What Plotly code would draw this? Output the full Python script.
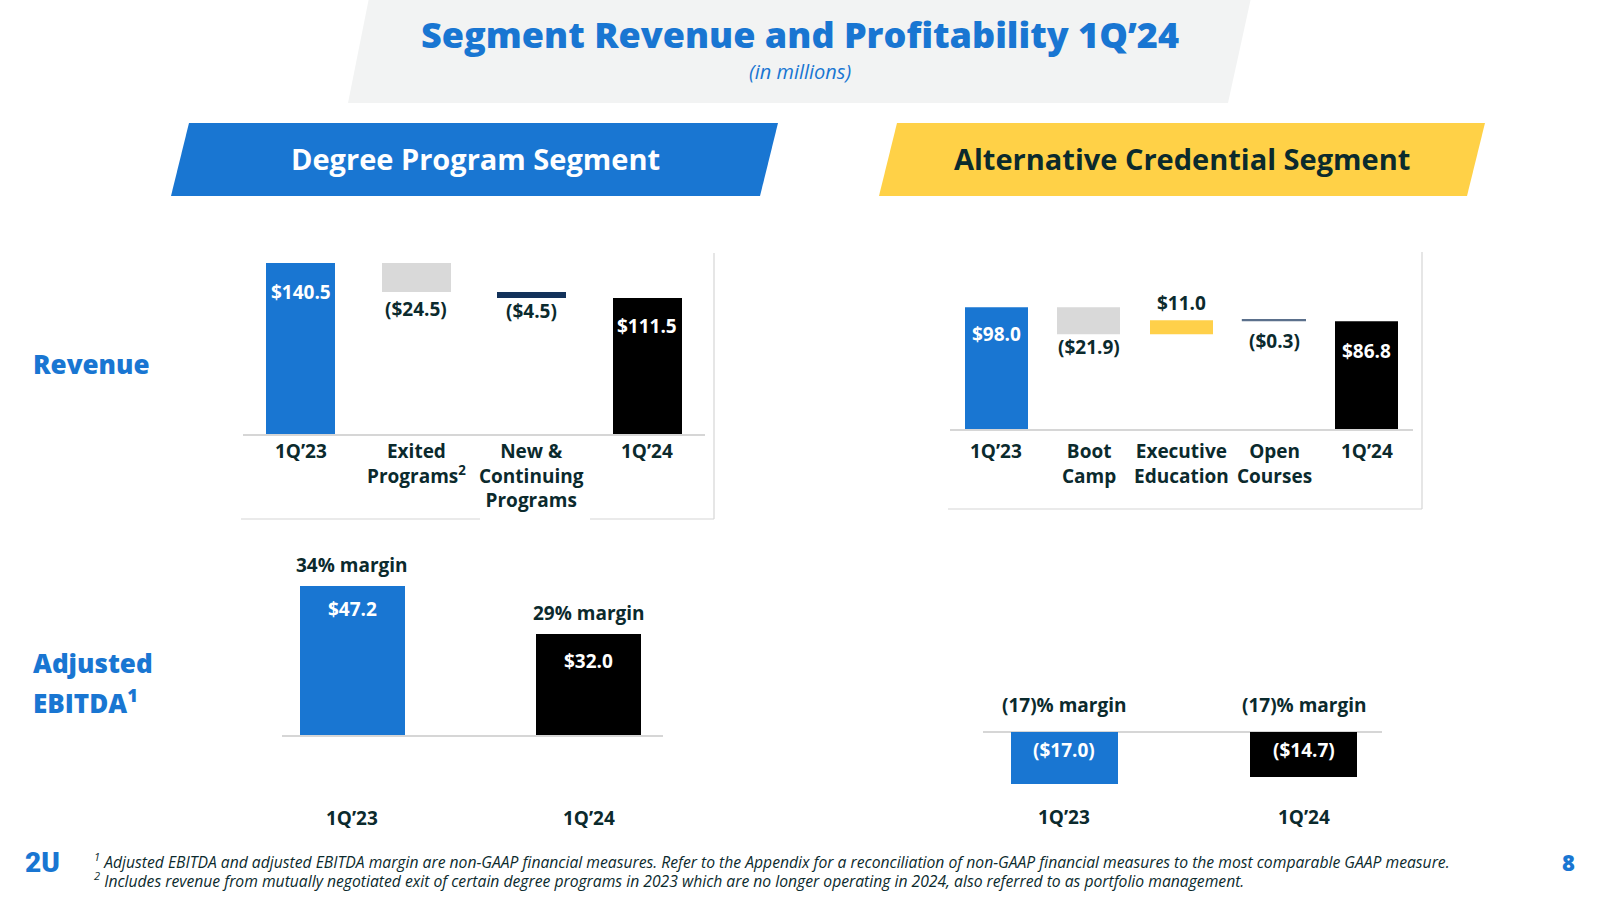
import plotly.graph_objects as go

W, H = 1600, 900

# ---------------- data ----------------
deg_rev_categories = ["1Q’23", "Exited Programs", "New & Continuing Programs", "1Q’24"]
deg_rev_ticklabels = ["1Q’23", "Exited<br>Programs<sup>2</sup>", "New &<br>Continuing<br>Programs", "1Q’24"]
deg_rev_values = [140.5, -24.5, -4.5, 111.5]
deg_rev_kind = ["total", "delta", "delta", "total"]
deg_rev_labels = ["$140.5", "($24.5)", "($4.5)", "$111.5"]

alt_rev_categories = ["1Q’23", "Boot Camp", "Executive Education", "Open Courses", "1Q’24"]
alt_rev_ticklabels = ["1Q’23", "Boot<br>Camp", "Executive<br>Education", "Open<br>Courses", "1Q’24"]
alt_rev_values = [98.0, -21.9, 11.0, -0.3, 86.8]
alt_rev_kind = ["total", "delta", "delta", "delta", "total"]
alt_rev_labels = ["$98.0", "($21.9)", "$11.0", "($0.3)", "$86.8"]

ebitda_periods = ["1Q’23", "1Q’24"]
deg_ebitda_values = [47.2, 32.0]
deg_ebitda_labels = ["$47.2", "$32.0"]
deg_ebitda_margins = ["34% margin", "29% margin"]
alt_ebitda_values = [-17.0, -14.7]
alt_ebitda_labels = ["($17.0)", "($14.7)"]
alt_ebitda_margins = ["(17)% margin", "(17)% margin"]

title_text = "Segment Revenue and Profitability 1Q’24"
subtitle_text = "(in millions)"
footnote_1 = "<sup>1</sup> Adjusted EBITDA and adjusted EBITDA margin are non-GAAP financial measures. Refer to the Appendix for a reconciliation of non-GAAP financial measures to the most comparable GAAP measure."
footnote_2 = "<sup>2</sup> Includes revenue from mutually negotiated exit of certain degree programs in 2023 which are no longer operating in 2024, also referred to as portfolio management."

# ---------------- styles ----------------
FONT = "Open Sans"
BLUE = "#1976D2"
BLACK = "#000000"
GRAY = "#D9D9D9"
NAVY = "#13325A"
YELLOW = "#FFD04A"
SLATE = "#5B708C"
DARK = "#0B2A2D"
LINE = "#D6D6D6"
BANNER_GRAY = "#F2F3F3"

deg_colors = [BLUE, GRAY, NAVY, BLACK]
alt_colors = [BLUE, GRAY, YELLOW, SLATE, BLACK]
alt_line_w = [0, 0, 0, 1.2, 0]


def px_x(x):
    return x / W


def px_y(y):
    return 1 - y / H


def waterfall(values, kinds):
    bases, heights = [], []
    running = 0.0
    for v, k in zip(values, kinds):
        if k == "total":
            bases.append(0.0)
            heights.append(v)
            running = v
        else:
            if v >= 0:
                bases.append(running)
                heights.append(v)
            else:
                bases.append(running + v)
                heights.append(-v)
            running += v
    return bases, heights


fig = go.Figure()

deg_base, deg_h = waterfall(deg_rev_values, deg_rev_kind)
alt_base, alt_h = waterfall(alt_rev_values, alt_rev_kind)

fig.add_trace(go.Bar(x=deg_rev_categories, y=deg_h, base=deg_base, width=0.6,
                     marker=dict(color=deg_colors, line=dict(width=0)),
                     xaxis="x", yaxis="y", hoverinfo="skip", showlegend=False))
fig.add_trace(go.Bar(x=alt_rev_categories, y=alt_h, base=alt_base, width=0.68,
                     marker=dict(color=alt_colors, line=dict(width=alt_line_w, color=alt_colors)),
                     xaxis="x2", yaxis="y2", hoverinfo="skip", showlegend=False))
fig.add_trace(go.Bar(x=ebitda_periods, y=deg_ebitda_values, width=0.444,
                     marker=dict(color=[BLUE, BLACK], line=dict(width=0)),
                     xaxis="x3", yaxis="y3", hoverinfo="skip", showlegend=False))
fig.add_trace(go.Bar(x=ebitda_periods, y=alt_ebitda_values, width=0.447,
                     marker=dict(color=[BLUE, BLACK], line=dict(width=0)),
                     xaxis="x4", yaxis="y4", hoverinfo="skip", showlegend=False))

hidden_y = dict(showgrid=False, zeroline=False, showline=False, showticklabels=False, ticks="")

fig.update_layout(
    width=W, height=H,
    margin=dict(l=0, r=0, t=0, b=0),
    paper_bgcolor="white", plot_bgcolor="rgba(0,0,0,0)",
    bargap=0, showlegend=False,
    xaxis=dict(domain=[px_x(243), px_x(705)], anchor="y", type="category", range=[-0.5, 3.5],
               categoryarray=deg_rev_categories, categoryorder="array",
               showline=True, linecolor=LINE, linewidth=1.5, ticks="", showgrid=False, zeroline=False,
               showticklabels=False),
    yaxis=dict(domain=[px_y(434), px_y(434 - 150 * 1.217)], anchor="x", range=[0, 150], **hidden_y),
    xaxis2=dict(domain=[px_x(950), px_x(1413)], anchor="y2", type="category", range=[-0.5, 4.5],
                categoryarray=alt_rev_categories, categoryorder="array",
                showline=True, linecolor=LINE, linewidth=1.5, ticks="", showgrid=False, zeroline=False,
                showticklabels=False),
    yaxis2=dict(domain=[px_y(429), px_y(429 - 105 * 1.245)], anchor="x2", range=[0, 105], **hidden_y),
    xaxis3=dict(domain=[px_x(282), px_x(663)], anchor="y3", type="category", range=[-0.298, 1.313],
                showline=True, linecolor=LINE, linewidth=1.5, ticks="", showgrid=False, zeroline=False,
                showticklabels=False),
    yaxis3=dict(domain=[px_y(735), px_y(735 - 50 * 3.157)], anchor="x3", range=[0, 50], **hidden_y),
    xaxis4=dict(domain=[px_x(983), px_x(1382)], anchor="y4", type="category", range=[-0.340, 1.326],
                showline=False, ticks="", showgrid=False, zeroline=False, showticklabels=False),
    yaxis4=dict(domain=[px_y(732 + 20 * 3.06), px_y(732 - 5 * 3.06)], anchor="x4", range=[-20, 5],
                showgrid=False, showline=False, showticklabels=False, ticks="",
                zeroline=True, zerolinecolor=LINE, zerolinewidth=1.5),
)

shapes = []


def poly(points, color):
    d = "M " + " L ".join(f"{px_x(x):.5f},{px_y(y):.5f}" for x, y in points) + " Z"
    return dict(type="path", path=d, xref="paper", yref="paper", fillcolor=color,
                line=dict(width=0), layer="below")


def seg(x0, y0, x1, y1):
    return dict(type="line", xref="paper", yref="paper", x0=px_x(x0), y0=px_y(y0), x1=px_x(x1), y1=px_y(y1),
                line=dict(color=LINE, width=1.2), layer="below")


shapes.append(poly([(369, -2), (1251, -2), (1228, 103), (348, 103)], BANNER_GRAY))
shapes.append(poly([(189, 123), (778, 123), (760, 196), (171, 196)], BLUE))
shapes.append(poly([(897, 123), (1485, 123), (1467, 196), (879, 196)], "#FFD147"))
# frame lines around revenue charts
shapes += [seg(714, 253, 714, 519), seg(241, 519, 480, 519), seg(590, 519, 714, 519)]
shapes += [seg(1422, 252, 1422, 509), seg(948, 509, 1422, 509)]
fig.update_layout(shapes=shapes)

ann = []


def txt(text, x, y, size, color=DARK, weight=700, italic=False, xanchor="center", yanchor="middle",
        xref="paper", yref="paper", yshift=0, family=FONT, align="left"):
    f = dict(family=family, size=size, color=color, weight=weight)
    if italic:
        f["style"] = "italic"
    ann.append(dict(text=text, x=x, y=y, xref=xref, yref=yref, xanchor=xanchor, yanchor=yanchor,
                    yshift=yshift, showarrow=False, font=f, align=align))


# titles
txt(title_text, 0.5, px_y(34), 36, color=BLUE, weight=800)
txt(subtitle_text, 0.5, px_y(72), 20, color=BLUE, weight=400, italic=True)
txt("Degree Program Segment", px_x(475), px_y(159), 29, color="white", weight=700)
txt("Alternative Credential Segment", px_x(1182), px_y(159), 29, color=DARK, weight=700)
txt("Revenue", px_x(31), px_y(364), 26, color=BLUE, weight=800, xanchor="left")
txt("Adjusted", px_x(31), px_y(663), 26, color=BLUE, weight=800, xanchor="left")
txt("EBITDA<sup>1</sup>", px_x(31), px_y(702), 26, color=BLUE, weight=800, xanchor="left")

# category labels of the revenue charts
for c, t in zip(deg_rev_categories, deg_rev_ticklabels):
    txt(t, c, px_y(436), 19, xref="x", yref="paper", yanchor="top", align="center")
for c, t in zip(alt_rev_categories, alt_rev_ticklabels):
    txt(t, c, px_y(436), 19, xref="x2", yref="paper", yanchor="top", align="center")

# revenue waterfall labels
deg_shift = [-29, -16, -13, -28]
for i, (c, lab, kind, v) in enumerate(zip(deg_rev_categories, deg_rev_labels, deg_rev_kind, deg_rev_values)):
    if kind == "total":
        y, col = deg_base[i] + deg_h[i], "white"
    elif v < 0:
        y, col = deg_base[i], DARK
    else:
        y, col = deg_base[i] + deg_h[i], DARK
    txt(lab, c, y, 19, color=col, xref="x", yref="y", yshift=deg_shift[i])

alt_shift = [-27, -13, 18, -20, -30]
for i, (c, lab, kind, v) in enumerate(zip(alt_rev_categories, alt_rev_labels, alt_rev_kind, alt_rev_values)):
    if kind == "total":
        y, col = alt_base[i] + alt_h[i], "white"
    elif v < 0:
        y, col = alt_base[i], DARK
    else:
        y, col = alt_base[i] + alt_h[i], DARK
    txt(lab, c, y, 19, color=col, xref="x2", yref="y2", yshift=alt_shift[i])

# EBITDA labels
deg_val_shift = [-23, -27]
for c, v, lab, m, s in zip(ebitda_periods, deg_ebitda_values, deg_ebitda_labels, deg_ebitda_margins, deg_val_shift):
    txt(m, c, v, 19, xref="x3", yref="y3", yshift=21)
    txt(lab, c, v, 19, color="white", xref="x3", yref="y3", yshift=s)
    txt(c, c, px_y(818), 19, xref="x3", yref="paper")

for c, v, lab, m in zip(ebitda_periods, alt_ebitda_values, alt_ebitda_labels, alt_ebitda_margins):
    txt(m, c, 0, 19, xref="x4", yref="y4", yshift=27)
    txt(lab, c, 0, 19, color="white", xref="x4", yref="y4", yshift=-18)
    txt(c, c, px_y(817), 19, xref="x4", yref="paper")

# footer
txt(footnote_1, px_x(92), px_y(861), 15.7, weight=400, italic=True, xanchor="left")
txt(footnote_2, px_x(92), px_y(880), 15.7, weight=400, italic=True, xanchor="left")
txt("2U", px_x(23), px_y(862), 28, color=BLUE, weight=900, xanchor="left", family="Roboto")
txt("8", px_x(1568), px_y(862), 22, color=BLUE, weight=800)

fig.update_layout(annotations=ann)
fig.write_html("out.html", config={"displayModeBar": False},
               post_script="document.body.style.margin='0';document.body.style.overflow='hidden';")
